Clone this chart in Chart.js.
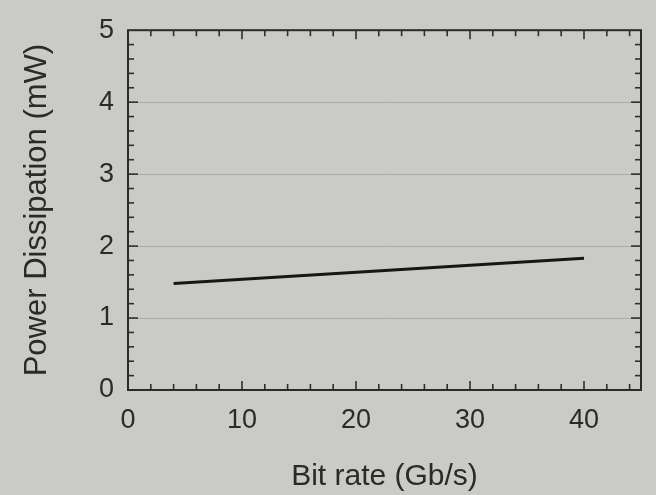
<!DOCTYPE html>
<html>
<head>
<meta charset="utf-8">
<script src="https://cdn.jsdelivr.net/npm/chart.js@4/dist/chart.umd.min.js"></script>
<style>
  html, body { margin: 0; padding: 0; background: #cacbc7; }
  #wrap { width: 656px; height: 495px; }
</style>
</head>
<body>
<div id="wrap"><canvas id="c" width="656" height="495"></canvas></div>
<script>
// ---- data ----
const bitRate = [4, 40];            // Gb/s
const powerDissipation = [1.48, 1.83]; // mW
const xTickLabels = [0, 10, 20, 30, 40];
const yTickLabels = [0, 1, 2, 3, 4, 5];
const xMinorStep = 2;
const yMinorStep = 0.2;
const xTitle = 'Bit rate (Gb/s)';
const yTitle = 'Power Dissipation (mW)';

const points = bitRate.map((x, i) => ({ x: x, y: powerDissipation[i] }));

const framePlugin = {
  id: 'frame',
  beforeDatasetsDraw(chart) {
    const { ctx, chartArea: a, scales: { x, y } } = chart;
    ctx.save();
    // horizontal grid lines
    ctx.strokeStyle = '#abaca8';
    ctx.lineWidth = 1;
    yTickLabels.forEach(v => {
      if (v === y.min || v === y.max) return;
      const py = Math.round(y.getPixelForValue(v)) + 0.5;
      ctx.beginPath(); ctx.moveTo(a.left, py); ctx.lineTo(a.right, py); ctx.stroke();
    });
    // ticks
    ctx.strokeStyle = '#2e2e2e';
    ctx.lineWidth = 1.6;
    const isMajorX = v => xTickLabels.some(t => Math.abs(t - v) < 1e-6);
    for (let v = x.min + xMinorStep; v < x.max - 1e-6; v += xMinorStep) {
      const px = x.getPixelForValue(v);
      const len = isMajorX(v) ? 9 : 6;
      ctx.beginPath(); ctx.moveTo(px, a.bottom); ctx.lineTo(px, a.bottom - len); ctx.stroke();
      ctx.beginPath(); ctx.moveTo(px, a.top); ctx.lineTo(px, a.top + len); ctx.stroke();
    }
    const isMajorY = v => yTickLabels.some(t => Math.abs(t - v) < 1e-6);
    for (let i = 1; y.min + i * yMinorStep < y.max - 1e-6; i++) {
      const v = y.min + i * yMinorStep;
      const py = y.getPixelForValue(v);
      const len = isMajorY(v) ? 10 : 6;
      ctx.beginPath(); ctx.moveTo(a.left, py); ctx.lineTo(a.left + len, py); ctx.stroke();
      ctx.beginPath(); ctx.moveTo(a.right, py); ctx.lineTo(a.right - len, py); ctx.stroke();
    }
    // frame
    ctx.strokeStyle = '#2a2a2a';
    ctx.lineWidth = 2;
    ctx.strokeRect(a.left, a.top, a.right - a.left, a.bottom - a.top);
    ctx.restore();
  }
};

const font = { family: 'Liberation Sans, Arial, sans-serif', size: 27 };
const xTitleFont = { family: 'Liberation Sans, Arial, sans-serif', size: 30 };
const yTitleFont = { family: 'Liberation Sans, Arial, sans-serif', size: 31 };

new Chart(document.getElementById('c'), {
  type: 'line',
  data: {
    datasets: [{
      data: points,
      borderColor: '#161616',
      borderWidth: 3,
      pointRadius: 0,
      fill: false,
      tension: 0
    }]
  },
  options: {
    responsive: false,
    animation: false,
    events: [],
    layout: { padding: { top: 24, right: 15, left: 0, bottom: 0 } },
    plugins: { legend: { display: false }, tooltip: { enabled: false } },
    scales: {
      x: {
        type: 'linear',
        min: 0, max: 45,
        afterBuildTicks: s => { s.ticks = xTickLabels.map(v => ({ value: v })); },
        afterFit: s => { s.height = 105; },
        grid: { display: false, drawTicks: false },
        border: { display: false },
        ticks: { color: '#2a2a2a', font: font, padding: 14, maxRotation: 0 },
        title: { display: true, text: xTitle, color: '#2a2a2a', font: xTitleFont, padding: { top: 0, bottom: 0 } }
      },
      y: {
        type: 'linear',
        min: 0, max: 5,
        afterBuildTicks: s => { s.ticks = yTickLabels.map(v => ({ value: v })); },
        afterFit: s => { s.width = 128; },
        grid: { display: false, drawTicks: false },
        border: { display: false },
        ticks: { color: '#2a2a2a', font: font, padding: 14 },
        title: { display: true, text: yTitle, color: '#2a2a2a', font: yTitleFont, padding: { top: 19, bottom: 0 } }
      }
    }
  },
  plugins: [framePlugin]
});
</script>
</body>
</html>
